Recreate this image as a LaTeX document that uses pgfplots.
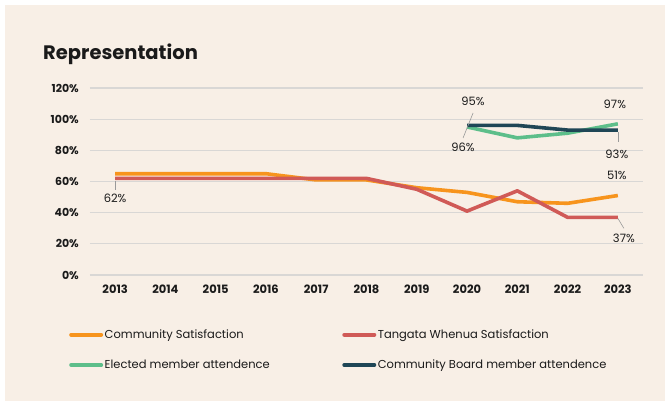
\documentclass[border=0pt]{standalone}
\usepackage{fontspec}
\setmainfont{Poppins}
\usepackage{pgfplots}
\pgfplotsset{compat=1.18}

\definecolor{bg}{HTML}{F8EFE6}
\definecolor{cOrange}{HTML}{F7941D}
\definecolor{cRed}{HTML}{D05A57}
\definecolor{cGreen}{HTML}{5DBE8A}
\definecolor{cDark}{HTML}{1F4656}
\definecolor{gridc}{HTML}{D9D7D5}
\definecolor{txt}{HTML}{1A1A1A}
\definecolor{lead}{HTML}{9A9A9A}

\begin{document}
\begin{tikzpicture}
\fill[white] (0,0) rectangle (670pt,406pt);
\fill[bg] (5pt,5pt) rectangle (665pt,401pt);
\node[anchor=base west, inner sep=0pt, text=txt,
      font=\bfseries\fontsize{19.5}{22}\selectfont] at (43pt,346pt) {Representation};

\begin{axis}[
    at={(90pt,131pt)}, anchor=south west,
    scale only axis,
    width=553pt, height=187pt,
    xmin=2012.5, xmax=2023.5,
    ymin=0, ymax=120,
    axis line style={draw=none},
    tick style={draw=none},
    ymajorgrids,
    grid style={gridc, line width=1.2pt},
    xtick={2013,2014,...,2023},
    ytick={0,20,...,120},
    /pgf/number format/assume math mode=true,
    x tick label style={/pgf/number format/1000 sep={}, anchor=north, inner sep=0pt, yshift=-10pt,
        font=\bfseries\fontsize{11.5}{13}\selectfont, text=txt},
    yticklabel={\pgfmathprintnumber{\tick}\%},
    y tick label style={anchor=east, inner sep=0pt, xshift=-11pt,
        font=\bfseries\fontsize{11}{13}\selectfont, text=txt},
    legend columns=2,
    legend cell align=left,
    legend style={draw=none, fill=none,
        at={(-0.0434,-0.272)}, anchor=north west,
        font=\fontsize{11.5}{13}\selectfont, text=txt,
        nodes={inner sep=1.5pt},
        row sep=17pt,
        /tikz/column 2/.style={column sep=71pt}},
    legend image code/.code={\draw[#1, line width=4pt, line cap=round] (0pt,0pt) -- (30pt,0pt);},
    every axis plot/.append style={line width=3.6pt, line join=round},
]
\addplot[cOrange] coordinates {
    (2013,65) (2014,65) (2015,65) (2016,65) (2017,61) (2018,61)
    (2019,56) (2020,53) (2021,47) (2022,46) (2023,51)
};
\addlegendentry{Community Satisfaction}
\addplot[cRed] coordinates {
    (2013,62) (2014,62) (2015,62) (2016,62) (2017,62) (2018,62)
    (2019,55) (2020,41) (2021,54) (2022,37) (2023,37)
};
\addlegendentry{Tangata Whenua Satisfaction}
\addplot[cGreen] coordinates {
    (2020,95) (2021,88) (2022,91) (2023,97)
};
\addlegendentry{Elected member attendence}
\addplot[cDark] coordinates {
    (2020,96) (2021,96) (2022,93) (2023,93)
};
\addlegendentry{Community Board member attendence}

\begin{scope}[every node/.style={font=\fontsize{11.5}{13}\selectfont, text=txt, inner sep=0pt}]
\draw[lead, line width=0.6pt] ([yshift=-3pt]axis cs:2013,62) -- ([yshift=-12pt]axis cs:2013,62);
\node at ([yshift=-20pt]axis cs:2013,62) {62\%};
\draw[lead, line width=0.6pt] ([xshift=-4pt,yshift=-11pt]axis cs:2020,95) -- ([xshift=6pt,yshift=14pt]axis cs:2020,95);
\node at ([xshift=6pt,yshift=26pt]axis cs:2020,95) {95\%};
\node at ([xshift=-4pt,yshift=-22pt]axis cs:2020,96) {96\%};
\node at ([xshift=-3pt,yshift=20pt]axis cs:2023,97) {97\%};
\draw[lead, line width=0.6pt] ([yshift=-2pt]axis cs:2023,93) -- ([yshift=-12pt]axis cs:2023,93);
\node at ([xshift=-1pt,yshift=-24pt]axis cs:2023,93) {93\%};
\node at ([xshift=-1pt,yshift=20pt]axis cs:2023,51) {51\%};
\draw[lead, line width=0.6pt] ([yshift=-1pt]axis cs:2023,37) -- ([xshift=6pt,yshift=-11pt]axis cs:2023,37);
\node at ([xshift=6pt,yshift=-21pt]axis cs:2023,37) {37\%};
\end{scope}
\end{axis}
\end{tikzpicture}
\end{document}
